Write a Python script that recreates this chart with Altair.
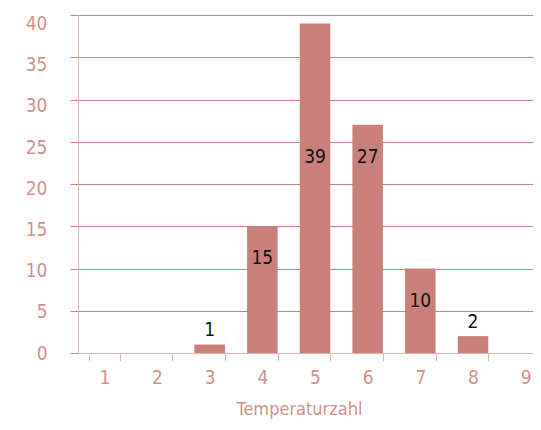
import altair as alt
import pandas as pd

categories = [1, 2, 3, 4, 5, 6, 7, 8, 9]
counts = [0, 0, 1, 15, 39, 27, 10, 2, 0]
y_ticks = [0, 5, 10, 15, 20, 25, 30, 35, 40]

df = pd.DataFrame({"cat": categories, "n": counts})

FONT = "DejaVu Sans Condensed, Roboto, sans-serif"
BAR = "#c9807b"
GRID = "#c97f7c"
LABEL = "#d4918e"
DOMAIN = "#e4b5b3"

x = alt.X(
    "cat:O",
    title="Temperaturzahl",
    scale=alt.Scale(range=[0, 474], paddingInner=0.42, paddingOuter=0.21),
    axis=alt.Axis(
        labelAngle=0,
        labelFont=FONT,
        labelFontSize=19,
        labelColor=LABEL,
        labelPadding=7,
        tickSize=8,
        tickColor=DOMAIN,
        tickBand="extent",
        domainColor=DOMAIN,
        titleFont=FONT,
        titleFontSize=18,
        titleFontWeight="normal",
        titleColor=LABEL,
        titlePadding=13,
        titleX=221,
        titleAlign="center",
    ),
)

bars = alt.Chart(df).mark_bar(color=BAR).encode(
    x=x,
    y=alt.Y(
        "n:Q",
        title=None,
        scale=alt.Scale(domain=[0, 40], nice=False),
        axis=alt.Axis(
            values=y_ticks,
            labelFont=FONT,
            labelFontSize=19,
            labelColor=LABEL,
            labelPadding=23,
            labelOffset=alt.ExprRef(expr="datum.value * 0.21"),
            tickSize=8,
            tickColor=GRID,
            gridColor=GRID,
            domainColor=DOMAIN,
        ),
    ),
)

inside = alt.Chart(df).transform_filter("datum.n >= 5").transform_calculate(
    pos="min(datum.n, 27)"
).mark_text(font=FONT, fontSize=19, color="#111111", baseline="middle", dy=32).encode(
    x=alt.X("cat:O"), y=alt.Y("pos:Q"), text="n:Q"
)

outside = alt.Chart(df).transform_filter("datum.n > 0 && datum.n < 5").mark_text(
    font=FONT, fontSize=19, color="#111111", baseline="middle", dy=-14.5
).encode(x=alt.X("cat:O"), y=alt.Y("n:Q"), text="n:Q")

chart = (
    alt.layer(bars, inside, outside)
    .properties(
        width=455,
        height=338,
        autosize=alt.AutoSizeParams(type="none"),
        padding={"left": 70, "top": 7, "right": 0, "bottom": 69},
    )
    .configure_view(stroke=None)
)

chart.save("out.html", embed_options={"renderer": "svg", "actions": False})
